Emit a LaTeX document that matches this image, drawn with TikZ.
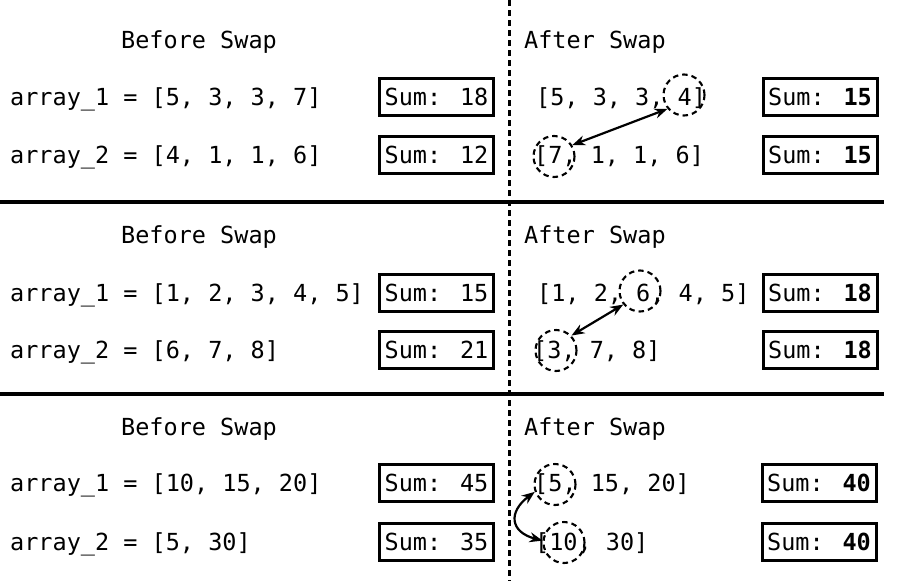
\documentclass[tikz,border=0pt]{standalone}
\usepackage{fontspec}
\setmainfont{DejaVu Sans Mono}
\usetikzlibrary{arrows.meta}
\begin{document}
\begin{tikzpicture}[x=1pt,y=-1pt,
  every node/.style={font=\fontsize{23.5}{28}\selectfont},
  txt/.style={anchor=base west, inner sep=0pt},
  sumbox/.style={draw, line width=3pt, minimum width=114pt, minimum height=37pt, inner sep=0pt, text height=17pt, text depth=0pt},
  ring/.style={draw, circle, dash pattern=on 5.5pt off 4pt, line width=2.1pt, minimum size=41pt, inner sep=0pt},
  swap/.style={{Stealth[length=13pt,width=10pt]}-{Stealth[length=13pt,width=10pt]}, line width=2.2pt},
  divider/.style={line width=3.2pt},
  midline/.style={dash pattern=on 6pt off 4pt, line width=3pt}]
\useasboundingbox (0,0) rectangle (900,581);

% dividers
\coordinate (vt) at (509,0);
\coordinate (vb) at (509,581);
\draw[midline] (vt) -- (vb);
\coordinate (h1l) at (0,202);
\coordinate (h1r) at (884,202);
\coordinate (h2l) at (0,394);
\coordinate (h2r) at (884,394);
\draw[divider] (h1l) -- (h1r);
\draw[divider] (h2l) -- (h2r);

% ---------- section 1 ----------
\node[txt] (b1) at (121,48.5) {Before Swap};
\node[txt] (a1) at (524,48.5) {After Swap};
\node[txt] (l1a) at (10,105.5) {array\_1 = [5, 3, 3, 7]};
\node[txt] (l1b) at (10,163.5) {array\_2 = [4, 1, 1, 6]};
\node[sumbox] (s1a) at (436.5,97) {Sum: 18};
\node[sumbox] (s1b) at (436.5,155) {Sum: 12};
\node[txt] (t1a) at (536,105.5) {[5, 3, 3, 4]};
\node[txt] (t1b) at (534,163.5) {[7, 1, 1, 6]};
\node[sumbox] (u1a) at (820,97) {Sum: \textbf{15}};
\node[sumbox] (u1b) at (820,155) {Sum: \textbf{15}};
\node[ring] (r1a) at (684,95) {};
\node[ring] (r1b) at (554,156.5) {};
\draw[swap] (r1b.32) -- (r1a.220);

% ---------- section 2 ----------
\node[txt] (b2) at (121,243.5) {Before Swap};
\node[txt] (a2) at (524,243.5) {After Swap};
\node[txt] (l2a) at (10,301) {array\_1 = [1, 2, 3, 4, 5]};
\node[txt] (l2b) at (10,358.5) {array\_2 = [6, 7, 8]};
\node[sumbox] (s2a) at (436.5,292.5) {Sum: 15};
\node[sumbox] (s2b) at (436.5,350) {Sum: 21};
\node[txt] (t2a) at (537,301) {[1, 2, 6, 4, 5]};
\node[txt] (t2b) at (533,358.5) {[3, 7, 8]};
\node[sumbox] (u2a) at (820,292.5) {Sum: \textbf{18}};
\node[sumbox] (u2b) at (820,350) {Sum: \textbf{18}};
\node[ring] (r2a) at (640,291) {};
\node[ring] (r2b) at (556,350.5) {};
\draw[swap] (r2b.44) -- (r2a.219);

% ---------- section 3 ----------
\node[txt] (b3) at (121,435) {Before Swap};
\node[txt] (a3) at (524,435) {After Swap};
\node[txt] (l3a) at (10,491.5) {array\_1 = [10, 15, 20]};
\node[txt] (l3b) at (10,550.5) {array\_2 = [5, 30]};
\node[sumbox] (s3a) at (436.5,483) {Sum: 45};
\node[sumbox] (s3b) at (436.5,542) {Sum: 35};
\node[txt] (t3a) at (534,491.5) {[5, 15, 20]};
\node[txt] (t3b) at (535,550.5) {[10, 30]};
\node[sumbox] (u3a) at (819,483) {Sum: \textbf{40}};
\node[sumbox] (u3b) at (819,542) {Sum: \textbf{40}};
\node[ring] (r3a) at (555,484.5) {};
\node[ring] (r3b) at (564,542.5) {};
\draw[swap] (r3a.200) .. controls (508,512) and (510,532) .. (r3b.175);
\end{tikzpicture}
\end{document}
